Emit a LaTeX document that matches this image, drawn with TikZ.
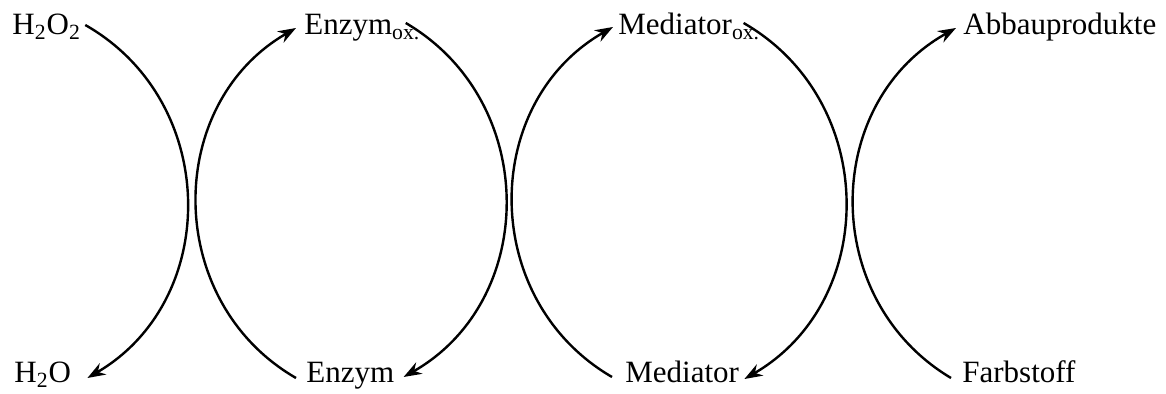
\documentclass[tikz,border=0pt]{standalone}
\usepackage{fontspec}
\setmainfont{Liberation Serif}
\usepackage{tikz}
\usetikzlibrary{arrows.meta}

\begin{document}
\begin{tikzpicture}[
  x=0.5pt, y=-0.5pt,
  font=\fontsize{15.5pt}{18pt}\selectfont,
  lbl/.style={inner sep=1pt, anchor=base west},
  cyc/.style={-{Stealth[length=9pt, width=6.5pt]}, line width=1.2pt,
              bend left=60, looseness=1.12}
]
\useasboundingbox (0,0) rectangle (1166,394);

% upper row
\node[lbl] (hperox) at (10,35) {H\textsubscript{2}O\textsubscript{2}};
\node[lbl] (enzox)  at (302,35) {Enzym\textsubscript{ox.}};
\node[lbl] (medox)  at (616,35) {Mediator\textsubscript{ox.}};
\node[lbl] (abbau)  at (961,35) {Abbauprodukte};

% lower row
\node[lbl] (water)  at (12,383) {H\textsubscript{2}O};
\node[lbl] (enzym)  at (304,383) {Enzym};
\node[lbl] (med)    at (623,383) {Mediator};
\node[lbl] (farb)   at (960,383) {Farbstoff};

\draw[cyc] ([shift={(2,-10)}]hperox.base east) to ([shift={(14,-5)}]water.base east);
\draw[cyc] ([shift={(-8,-5)}]enzym.base west) to ([shift={(-6,-7)}]enzox.base west);
\draw[cyc] ([shift={(-17,-12)}]enzox.base east) to ([shift={(7,-6)}]enzym.base east);
\draw[cyc] ([shift={(-11,-6)}]med.base west) to ([shift={(-3,-8)}]medox.base west);
\draw[cyc] ([shift={(-19,-12)}]medox.base east) to ([shift={(3,-4)}]med.base east);
\draw[cyc] ([shift={(-9,-5)}]farb.base west) to ([shift={(-5,-7)}]abbau.base west);

\end{tikzpicture}
\end{document}
